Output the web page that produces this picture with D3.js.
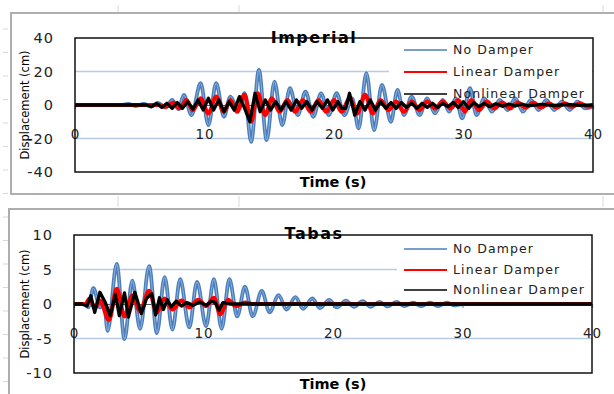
<!DOCTYPE html>
<html>
<head>
<meta charset="utf-8">
<script src="https://cdn.jsdelivr.net/npm/d3@7"></script>
<style>
body{margin:0;background:#fff;}
svg{display:block;}
text{font-family:"DejaVu Sans",Verdana,sans-serif;}
</style>
</head>
<body>
<svg id="chart" width="614" height="394"></svg>
<script>
//// Data: [time (s), displacement (cm)] at turning points ////
var seriesNames = ["No Damper", "Linear Damper", "Nonlinear Damper"];
var xTicks = [0, 10, 20, 30, 40];
var impYTicks = [-40, -20, 0, 20, 40];
var tabYTicks = [-10, -5, 0, 5, 10];

var impNoDamper = [[0,0],[3.5,0],[4.1,0.6],[4.7,-0.6],[5.3,0.6],[5.9,-0.9],[6.4,1.2],[7.0,-1.6],[7.5,3],[8.0,-2.5],
  [8.4,6],[9.0,-6],[9.7,13],[10.3,-12],[10.9,13],[11.5,-7],[12.0,5],[12.6,-3],[13.1,7],[13.6,-22],
  [14.2,21],[14.8,-21],[15.4,14],[16.0,-12],[16.6,10],[17.2,-6],[17.8,8],[18.4,-7],[19.0,7],[19.6,-6],
  [20.2,7],[20.8,-6],[21.4,4],[21.9,-14],[22.5,19],[23.1,-15],[23.7,12],[24.4,-10],[24.9,9],[25.4,-6],
  [26.0,5],[26.6,-6],[27.2,4],[27.8,-5],[28.4,3],[28.9,-4],[29.4,4],[29.9,-8],[30.5,10],[31.0,-6],
  [31.6,4],[32.2,-4],[32.8,3],[33.4,-3],[34.0,4],[34.6,-4],[35.2,3],[35.8,-3],[36.4,3],[37.0,-3],
  [37.6,2],[38.2,-3],[38.8,2],[39.4,-2],[40,-1]];

var impLinear = [[0,0],[6.5,0],[7.0,-1],[7.6,1.5],[8.1,-2],[8.6,3],[9.1,-3],[9.7,4],[10.3,-5],[10.9,5],
  [11.5,-4],[12.0,3],[12.5,-4],[13.1,6],[13.6,-10],[14.1,7],[14.7,-6],[15.2,4],[15.8,-4],[16.4,3],
  [17.0,-4],[17.6,3],[18.2,-4],[18.8,3],[19.4,-4],[20.0,3],[20.6,-4],[21.2,4],[21.8,-5],[22.4,6],
  [23.0,-5],[23.6,3],[24.2,-3],[24.8,2],[25.4,-4],[26.0,2],[26.6,-3],[27.2,2],[27.8,-2],[28.4,2],
  [29.0,-2],[29.6,3],[30.1,-4],[30.6,3],[31.2,-3],[31.8,2],[32.4,-2],[33.0,1.5],[33.6,-2],[34.2,1.5],
  [34.8,-1.5],[35.4,1.5],[36.0,-1.5],[36.6,1],[37.2,-1.5],[37.8,1],[38.4,-1],[39.0,1],[39.6,-1],[40,0]];

var impNonlinear = [[0,0],[5.5,0],[5.9,-1],[6.3,1],[6.7,-1.5],[7.1,1],[7.5,-2],[7.9,1.5],[8.3,-2],[8.7,2],
  [9.1,-2.5],[9.5,3],[9.9,-3],[10.3,4],[10.7,-3],[11.1,3],[11.5,-4],[11.9,2],[12.3,-3],[12.7,5],
  [13.1,-2],[13.5,-10],[13.9,7],[14.3,-4],[14.7,3],[15.1,-3],[15.5,2],[15.9,-3],[16.3,2],[16.7,-3],
  [17.1,3],[17.5,-2],[17.9,2],[18.3,-3],[18.7,2],[19.1,-2],[19.5,3],[19.9,-3],[20.3,2],[20.6,-2],
  [20.9,-2],[21.2,7],[21.6,-6],[22.0,2],[22.4,-3],[22.8,3],[23.2,-3],[23.6,2],[24.0,-2],[24.4,1.5],
  [24.8,-2],[25.2,1.5],[25.6,-1.5],[26.0,1],[26.4,-2],[26.8,1],[27.2,-1.5],[27.6,1],[28.0,-1.5],[28.4,1],
  [28.8,-1],[29.2,1.5],[29.6,-1.5],[30.0,2],[30.4,-2],[30.8,1.5],[31.2,-1],[31.6,1],[32.0,-1],[32.5,0.8],
  [33.0,-0.8],[33.5,0.6],[34.0,-0.6],[34.5,0.5],[35.0,-0.5],[36.0,0.4],[37.0,-0.3],[38.0,0.3],[39.0,-0.2],[40,0]];

var tabNoDamper = [[0,0],[0.8,0],[1.1,-0.5],[1.5,2.3],[2.0,-0.5],[2.3,0.5],[2.6,-3.9],[3.3,5.8],[3.9,-5.1],[4.5,3.4],
  [5.1,-3.6],[5.8,5.5],[6.4,-4.2],[7.0,3.9],[7.6,-3.7],[8.2,3.6],[8.9,-3.4],[9.5,3.2],[10.2,-3.2],[10.8,3.6],
  [11.4,-3.6],[12.0,3.6],[12.6,-1.8],[13.2,2.5],[13.8,-1.8],[14.5,1.9],[15.1,-1.2],[15.8,1.3],[16.4,-0.8],[17.1,1.0],
  [17.7,-0.7],[18.4,0.8],[19.0,-0.6],[19.7,0.6],[20.3,-0.5],[21.0,0.5],[21.6,-0.4],[22.3,0.4],[22.9,-0.4],[23.6,0.3],
  [24.2,-0.35],[24.9,0.3],[25.5,-0.3],[26.2,0.2],[26.8,-0.3],[27.5,0.2],[28.1,-0.3],[28.8,0.2],[29.4,-0.2],[30,0],[40,0]];

var tabLinear = [[0,0],[0.9,0],[1.2,0.8],[1.6,-0.6],[2.0,0.5],[2.7,-2.3],[3.3,2.2],[3.9,-1.8],[4.5,1.2],[5.1,-1.0],
  [5.8,1.9],[6.4,-1.2],[7.0,0.8],[7.6,-0.8],[8.3,0.5],[8.9,-0.5],[9.6,0.6],[10.2,-0.3],[10.8,0.9],[11.3,-1.5],
  [11.9,0.6],[12.5,-0.3],[13.2,0.2],[13.8,0],[40,0]];

var tabNonlinear = [[0,0],[0.6,0],[1.0,-0.3],[1.3,1.2],[1.6,-1.2],[2.0,1.7],[2.4,0.3],[2.8,-1.7],[3.2,1.4],[3.5,-1.7],
  [3.9,1.6],[4.2,-1.9],[4.7,1.7],[5.2,-1.4],[5.6,0.8],[6.0,1.5],[6.3,-1.6],[6.6,0.9],[6.9,-0.8],[7.2,0.6],
  [7.5,-0.4],[7.9,0.4],[8.3,-0.3],[8.7,0.2],[9.2,-0.2],[9.7,0.3],[10.2,-0.2],[10.6,0.4],[10.9,0.2],[11.2,-0.9],
  [11.5,0.2],[12.0,0],[40,0]];

//// Layout ////
var svg = d3.select("#chart");
var colors = ["#4a7ebb", "#ff0000", "#000000"];

var panels = [
  {title: "Imperial", yTicks: impYTicks, series: [impNoDamper, impLinear, impNonlinear],
   frame: [11, 13, 640, 181], left: 75, right: 593, top: 38, bottom: 172,
   titleY: 43, timeY: 187, legendY: [50, 72, 94], legendBox: [389, 39, 203, 43]},
  {title: "Tabas", yTicks: tabYTicks, series: [tabNoDamper, tabLinear, tabNonlinear],
   frame: [9, 209, 640, 200], left: 74, right: 592, top: 235, bottom: 373,
   titleY: 239, timeY: 389, legendY: [249, 270, 290], legendBox: [397, 236, 194, 45]}
];

// faint worksheet cell marks behind the charts
var marks = svg.append("g").attr("stroke", "#d9d9d9").attr("stroke-width", 1);
for (var k = 0; k < 16; k++) {
  var yy = 29 + k * 23.5;
  marks.append("line").attr("x1", 3).attr("x2", 8).attr("y1", yy).attr("y2", yy);
}
[118, 239, 603].forEach(function(xx) {
  marks.append("line").attr("x1", xx).attr("x2", xx).attr("y1", 5).attr("y2", 12);
  marks.append("line").attr("x1", xx).attr("x2", xx).attr("y1", 196).attr("y2", 207);
});

panels.forEach(drawPanel);

function drawPanel(p) {
  var g = svg.append("g");

  // chart frame
  g.append("rect")
    .attr("x", p.frame[0]).attr("y", p.frame[1])
    .attr("width", p.frame[2]).attr("height", p.frame[3])
    .attr("fill", "#fff").attr("stroke", "#a6a6a6").attr("stroke-width", 1.8);

  var x = d3.scaleLinear().domain([0, 40]).range([p.left, p.right]);
  var y = d3.scaleLinear().domain(d3.extent(p.yTicks)).range([p.bottom, p.top]);
  var maxV = d3.max(p.yTicks);

  // gridlines (inner ticks only)
  g.selectAll(".grid")
    .data(p.yTicks.filter(function(v) { return v !== 0 && Math.abs(v) !== maxV; }))
    .enter().append("line")
    .attr("x1", p.left).attr("x2", p.right)
    .attr("y1", function(d) { return y(d); }).attr("y2", function(d) { return y(d); })
    .attr("stroke", "#b8cbe6").attr("stroke-width", 1.3);

  // legend background covers the gridline
  g.append("rect")
    .attr("x", p.legendBox[0]).attr("y", p.legendBox[1])
    .attr("width", p.legendBox[2]).attr("height", p.legendBox[3])
    .attr("fill", "#fff");

  // y axis labels (plain hyphen minus, as in the source)
  var ya = g.append("g")
    .attr("transform", "translate(" + p.left + ",0)")
    .call(d3.axisLeft(y).tickValues(p.yTicks).tickSize(0).tickPadding(21)
      .tickFormat(function(d) { return String(d); }));
  ya.select(".domain").remove();
  ya.selectAll("text")
    .attr("font-size", "14.5px").attr("fill", "#222").attr("letter-spacing", "1px")
    .style("font-family", "'DejaVu Sans',sans-serif");

  // x axis at zero
  var xa = g.append("g")
    .attr("transform", "translate(0," + y(0) + ")")
    .call(d3.axisBottom(x).tickValues(xTicks).tickSize(4).tickPadding(20)
      .tickFormat(function(d) { return String(d); }));
  xa.select(".domain").attr("stroke", "#555").attr("stroke-width", 1.2);
  xa.selectAll(".tick line").attr("stroke", "#777");
  xa.selectAll("text")
    .attr("font-size", "13.5px").attr("fill", "#222").attr("letter-spacing", "1px")
    .style("font-family", "'DejaVu Sans',sans-serif");

  // series
  var curves = [d3.curveMonotoneX, d3.curveMonotoneX, d3.curveLinear];
  var widths = [3.8, 4.2, 3.3];
  p.series.forEach(function(s, i) {
    var line = d3.line()
      .x(function(d) { return x(d[0]); })
      .y(function(d) { return y(d[1]); })
      .curve(curves[i]);
    g.append("path").datum(s)
      .attr("d", line).attr("fill", "none")
      .attr("stroke", colors[i]).attr("stroke-width", widths[i])
      .attr("stroke-linejoin", "round");
    if (i === 0) {
      g.append("path").datum(s)
        .attr("d", line).attr("fill", "none")
        .attr("stroke", "#9dbbe2").attr("stroke-width", 0.8);
    }
  });

  // plot area border
  g.append("rect")
    .attr("x", p.left).attr("y", p.top)
    .attr("width", p.right - p.left).attr("height", p.bottom - p.top)
    .attr("fill", "none").attr("stroke", "#111").attr("stroke-width", 1.5);

  // legend
  var lg = g.selectAll(".legend")
    .data(seriesNames)
    .enter().append("g")
    .attr("transform", function(d, i) { return "translate(0," + p.legendY[i] + ")"; });
  lg.append("line")
    .attr("x1", 404).attr("x2", 447)
    .attr("stroke", function(d, i) { return colors[i]; })
    .attr("stroke-width", function(d, i) { return i === 1 ? 2 : 1.5; });
  lg.append("text")
    .attr("x", 453).attr("dy", "0.35em")
    .attr("font-size", "12.5px").attr("letter-spacing", "1.1px").attr("fill", "#222")
    .text(function(d) { return d; });

  // titles
  g.append("text")
    .attr("x", 314).attr("y", p.titleY)
    .attr("text-anchor", "middle")
    .attr("font-size", "16px").attr("font-weight", "bold").attr("letter-spacing", "1.5px")
    .text(p.title);

  g.append("text")
    .attr("x", 333).attr("y", p.timeY)
    .attr("text-anchor", "middle")
    .attr("font-size", "14.5px").attr("font-weight", "bold")
    .text("Time (s)");

  g.append("text")
    .attr("transform", "translate(29," + y(0) + ") rotate(-90)")
    .attr("text-anchor", "middle")
    .attr("font-size", "11.5px")
    .text("Displacement (cm)");
}
</script>
</body>
</html>
